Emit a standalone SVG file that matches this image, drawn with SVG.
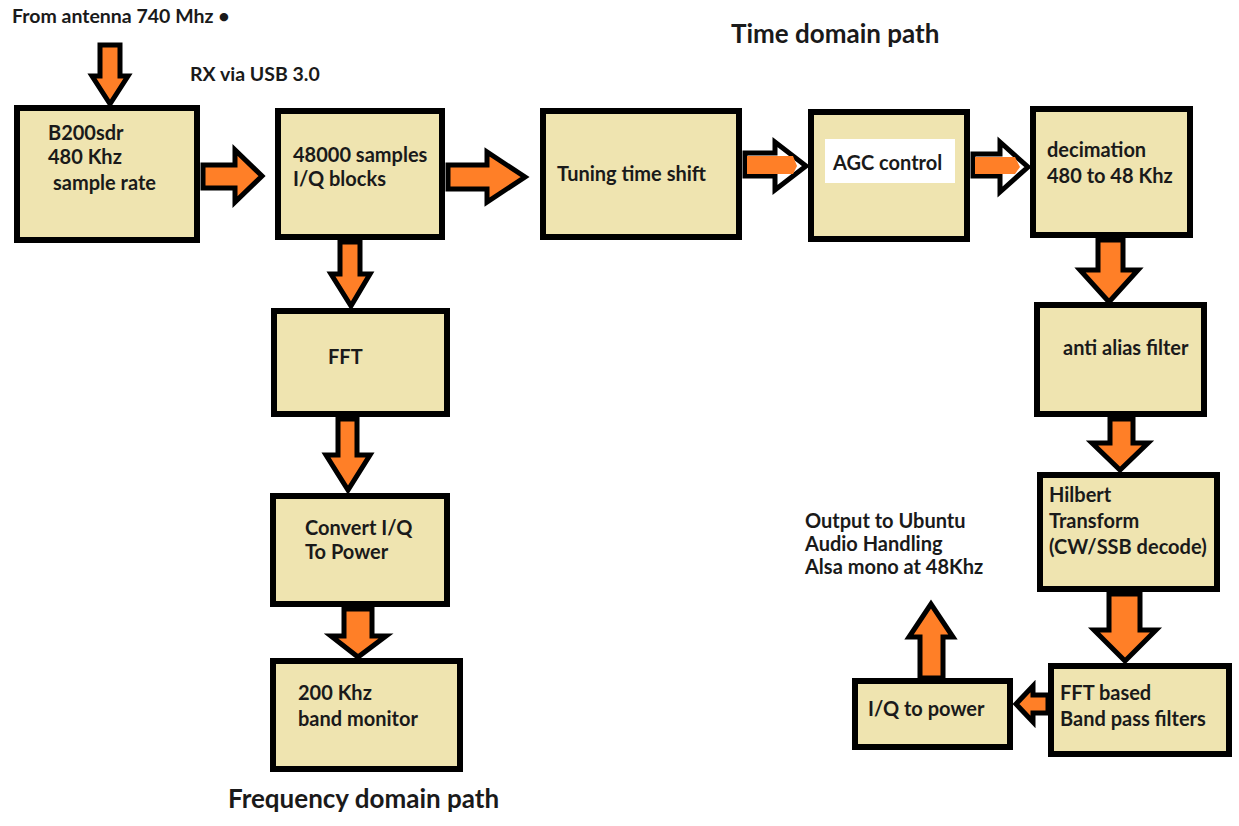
<svg xmlns="http://www.w3.org/2000/svg" width="1239" height="826" viewBox="0 0 1239 826">
<style>
.box{fill:#EFE4B0;stroke:#000;stroke-width:6}
.arr{fill:#FF7F27;stroke:#000;stroke-width:5;stroke-linejoin:miter}
.hol{fill:#fff;stroke:#000;stroke-width:5}
.org{fill:#FF7F27}
text{font-family:Lato,"Liberation Sans",sans-serif;font-weight:bold;fill:#1a1a1a}
.t{font-size:20px}
.h{font-size:26px}
.s{font-size:19.5px}
</style>
<rect width="1239" height="826" fill="#fff"/>
<text class="s" x="12" y="23">From antenna 740 Mhz •</text>
<text class="s" x="190" y="81">RX via USB 3.0</text>
<text class="h" x="731" y="43">Time domain path</text>
<text class="h" x="228" y="808">Frequency domain path</text>
<text class="t" x="805" y="528">Output to Ubuntu</text>
<text class="t" x="805" y="551">Audio Handling</text>
<text class="t" x="805" y="574">Alsa mono at 48Khz</text>
<g id="connectors">
<polygon class="arr" points="100,45 120,45 120,76 128,76 110,104 92,76 100,76"/>
<polygon class="arr" points="203,165 235,165 235,150 262,176 235,202 235,188 203,188"/>
<polygon class="arr" points="448,165 487,165 487,152 525,177 487,202 487,189 448,189"/>
<polygon class="hol" points="745,153 775,153 775,142 806,166 775,190 775,176 745,176"/>
<polygon class="org" points="747,156 793,156 797,166 793,174 747,174"/>
<polygon class="hol" points="973,154 1000,154 1000,142 1028,167 1000,192 1000,176 973,176"/>
<polygon class="org" points="975,157 1015,157 1020,167 1015,174 975,174"/>
<polygon class="arr" points="340,242 360,242 360,274 370,274 351,306 331,274 340,274"/>
<polygon class="arr" points="338,419 357,419 357,455 370,455 348,490 326,455 338,455"/>
<polygon class="arr" points="344,609 372,609 372,636 386,636 358,657 331,636 344,636"/>
<polygon class="arr" points="1098,240 1123,240 1123,270 1138,270 1109,302 1080,270 1098,270"/>
<polygon class="arr" points="1110,419 1133,419 1133,443 1148,443 1120,470 1092,443 1110,443"/>
<polygon class="arr" points="1109,594 1140,594 1140,630 1156,630 1125,661 1094,630 1109,630"/>
<polygon class="arr" points="1048,695 1033,695 1033,686 1016,704 1033,722 1033,713 1048,713"/>
<polygon class="arr" points="920,678 943,678 943,637 953,637 931,604 909,637 920,637"/>
</g>
<g id="b200">
<rect class="box" x="17" y="108" width="180" height="132"/>
<text class="t" x="48" y="140">B200sdr</text>
<text class="t" x="48" y="164">480 Khz</text>
<text class="t" x="53" y="190">sample rate</text>
</g>
<g id="samples">
<rect class="box" x="278" y="111" width="164" height="126"/>
<text class="t" x="293" y="162">48000 samples</text>
<text class="t" x="293" y="186">I/Q blocks</text>
</g>
<g id="tuning">
<rect class="box" x="543" y="111" width="196" height="126"/>
<text class="t" x="557" y="181">Tuning time shift</text>
</g>
<g id="agc">
<rect class="box" x="811" y="112" width="156" height="127"/>
<rect x="825" y="139" width="130" height="44" fill="#fff"/>
<text class="t" x="833" y="170">AGC control</text>
</g>
<g id="decimation">
<rect class="box" x="1033" y="109" width="157" height="126"/>
<text class="t" x="1047" y="157">decimation</text>
<text class="t" x="1047" y="183">480 to 48 Khz</text>
</g>
<g id="fft">
<rect class="box" x="274" y="311" width="173" height="103"/>
<text class="t" x="328" y="364">FFT</text>
</g>
<g id="convert">
<rect class="box" x="273" y="496" width="174" height="108"/>
<text class="t" x="305" y="535">Convert I/Q</text>
<text class="t" x="305" y="559">To Power</text>
</g>
<g id="monitor">
<rect class="box" x="273" y="661" width="187" height="108"/>
<text class="t" x="298" y="700">200 Khz</text>
<text class="t" x="298" y="726">band monitor</text>
</g>
<g id="antialias">
<rect class="box" x="1037" y="305" width="167" height="109"/>
<text class="t" x="1063" y="355">anti alias filter</text>
</g>
<g id="hilbert">
<rect class="box" x="1040" y="475" width="177" height="114"/>
<text class="t" x="1049" y="502">Hilbert</text>
<text class="t" x="1049" y="528">Transform</text>
<text class="t" x="1049" y="554">(CW/SSB decode)</text>
</g>
<g id="fftbp">
<rect class="box" x="1051" y="666" width="178" height="88"/>
<text class="t" x="1060" y="700">FFT based</text>
<text class="t" x="1060" y="726">Band pass filters</text>
</g>
<g id="iqpower">
<rect class="box" x="855" y="681" width="155" height="66"/>
<text class="t" x="868" y="716">I/Q to power</text>
</g>
</svg>
